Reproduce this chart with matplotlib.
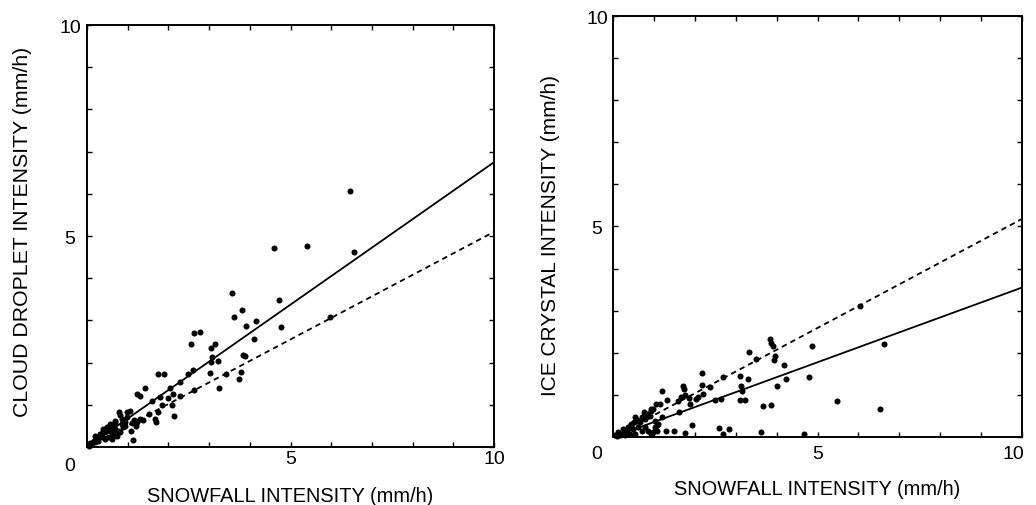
import matplotlib.pyplot as plt
from matplotlib.ticker import MultipleLocator
from matplotlib.transforms import ScaledTranslation

plt.rcParams["font.family"] = ["Liberation Sans", "DejaVu Sans"]

# cloud droplet accretion vs snowfall
DROP_X = [6.47, 6.57, 4.59, 5.41, 4.72, 4.77, 5.96, 3.57, 3.81, 3.61, 3.90, 4.14,
          4.09, 2.55, 2.63, 2.77, 3.04, 3.15, 3.07, 3.04, 3.23, 3.83, 3.89, 3.78,
          3.74, 3.01, 3.42, 3.24, 2.60, 2.47, 2.28, 2.63, 2.28, 2.11, 2.05, 1.74,
          1.88, 1.43, 1.24, 1.29, 1.79, 1.99, 1.84, 2.09, 2.13, 1.60, 1.52, 1.74,
          1.66, 1.69, 1.38, 1.23, 1.15, 1.21, 1.09, 1.13, 1.06, 0.99, 0.79, 0.80,
          0.97, 0.93, 0.88, 0.80, 0.68, 0.64, 0.56, 0.47, 0.39, 0.31, 0.23, 0.15,
          0.07, 0.85, 0.69, 0.61, 0.48, 0.44, 0.32, 0.36, 0.24, 0.16, 0.07, 0.53,
          0.65, 0.77, 0.93, 1.10, 1.18, 1.30, 0.57, 0.40, 0.69, 0.85, 0.20, 0.28,
          0.44, 0.61, 0.73, 0.05, 0.10, 0.12, 0.20, 0.26, 0.35, 0.52]
DROP_Y = [6.06, 4.62, 4.71, 4.77, 3.49, 2.84, 3.08, 3.64, 3.24, 3.08, 2.86, 2.98,
          2.57, 2.43, 2.69, 2.73, 2.35, 2.43, 2.13, 2.01, 2.03, 2.19, 2.16, 1.78,
          1.60, 1.75, 1.72, 1.40, 1.83, 1.74, 1.54, 1.34, 1.22, 1.26, 1.40, 1.72,
          1.72, 1.41, 1.26, 1.22, 1.18, 1.16, 1.00, 0.99, 0.73, 1.09, 0.79, 0.83,
          0.67, 0.59, 0.65, 0.59, 0.63, 0.50, 0.39, 0.16, 0.85, 0.83, 0.83, 0.77,
          0.71, 0.59, 0.47, 0.36, 0.62, 0.47, 0.55, 0.43, 0.36, 0.28, 0.20, 0.12,
          0.04, 0.66, 0.58, 0.50, 0.47, 0.35, 0.31, 0.23, 0.19, 0.15, 0.09, 0.23,
          0.31, 0.39, 0.50, 0.58, 0.62, 0.66, 0.39, 0.43, 0.43, 0.55, 0.27, 0.15,
          0.19, 0.19, 0.27, 0.02, 0.06, 0.10, 0.12, 0.24, 0.30, 0.40]

# ice crystal deposition vs snowfall
ICE_X = [6.63, 6.54, 5.48, 6.05, 4.87, 4.79, 3.83, 3.86, 3.91, 3.97, 3.93, 4.17,
         4.23, 4.00, 3.67, 3.87, 3.33, 3.50, 3.30, 3.10, 3.13, 3.16, 3.10, 3.23,
         2.68, 2.65, 2.49, 2.18, 2.18, 2.36, 2.20, 2.09, 2.02, 1.89, 1.72, 1.73,
         1.77, 1.67, 1.85, 1.59, 1.62, 1.32, 1.20, 1.16, 1.04, 0.99, 0.93, 0.77,
         0.85, 1.08, 0.55, 0.59, 0.51, 1.30, 1.48, 1.77, 1.93, 2.60, 2.84, 2.68,
         3.62, 4.66, 0.99, 0.94, 0.82, 0.70, 0.58, 0.45, 0.37, 0.25, 0.13, 0.05,
         0.50, 0.62, 0.70, 0.78, 0.86, 0.94, 1.03, 1.11, 1.07, 0.33, 0.21, 0.54,
         0.66, 0.78, 0.90, 1.03, 1.19, 0.10, 0.18, 0.30, 0.42]
ICE_Y = [2.20, 0.67, 0.85, 3.11, 2.15, 1.42, 2.33, 2.23, 2.15, 1.92, 1.84, 1.72,
         1.38, 1.22, 0.74, 0.75, 2.02, 1.86, 1.38, 1.44, 1.20, 1.10, 0.87, 0.87,
         1.42, 0.90, 0.87, 1.53, 1.23, 1.19, 1.03, 0.95, 0.91, 0.79, 1.20, 1.13,
         1.00, 0.95, 0.92, 0.85, 0.59, 0.87, 1.10, 0.79, 0.79, 0.67, 0.61, 0.59,
         0.51, 0.29, 0.47, 0.40, 0.36, 0.14, 0.14, 0.10, 0.28, 0.22, 0.18, 0.08,
         0.12, 0.08, 0.12, 0.66, 0.55, 0.47, 0.39, 0.31, 0.23, 0.19, 0.11, 0.05,
         0.19, 0.23, 0.15, 0.23, 0.15, 0.07, 0.23, 0.31, 0.15, 0.11, 0.07, 0.07,
         0.35, 0.43, 0.50, 0.39, 0.47, 0.03, 0.04, 0.05, 0.06]

# regression lines (value at x = 0 and x = 10)
LINE_X = [0, 10]
DROP_SOLID = [0, 6.75]
DROP_DASHED = [0, 5.1]
ICE_SOLID = [0, 3.55]
ICE_DASHED = [0, 5.18]

fig = plt.figure(figsize=(10.36, 5.06), dpi=100)
ax_l = fig.add_axes([0.0840, 0.1146, 0.3929, 0.8340])
ax_r = fig.add_axes([0.5917, 0.1344, 0.3948, 0.8320])

panels = [
    (ax_l, DROP_X, DROP_Y, DROP_SOLID, DROP_DASHED,
     "CLOUD DROPLET INTENSITY (mm/h)", 15.3, 2.5, 12.2,
     (-0.135, 0.512), -0.092, (-0.042, -0.043), 0),
    (ax_r, ICE_X, ICE_Y, ICE_SOLID, ICE_DASHED,
     "ICE CRYSTAL INTENSITY (mm/h)", 15.0, 6.0, 11.5,
     (-0.129, 0.482), -0.0995, (-0.039, -0.040), -6),
]

for (ax, xs, ys, solid, dashed, ylab, ysize, xpad, ypad,
     ylab_pos, xlab_y, zero_pos, ten_shift) in panels:
    ax.scatter(xs, ys, s=19, color="black", linewidths=0, zorder=3, clip_on=False)
    ax.plot(LINE_X, solid, color="black", lw=1.3)
    ax.plot(LINE_X, dashed, color="black", lw=1.3, linestyle=(0, (3.0, 2.3)))
    ax.set_xlim(0, 10)
    ax.set_ylim(0, 10)

    # labelled ticks at 5 and 10, plain ticks every unit, all pointing inward
    ax.set_xticks([0, 5, 10], ["", "5", "10"])
    ax.set_yticks([0, 5, 10], ["", "5", "10"])
    ax.xaxis.set_minor_locator(MultipleLocator(1))
    ax.yaxis.set_minor_locator(MultipleLocator(1))
    ax.tick_params(which="both", direction="in", top=True, right=True,
                   length=3.5, width=1.0, labelsize=14)
    ax.tick_params(axis="x", pad=xpad)
    ax.tick_params(axis="y", pad=ypad)
    for lbl in ax.get_yticklabels():
        lbl.set_horizontalalignment("center")
    if ten_shift:
        last = ax.get_xticklabels()[-1]
        last.set_transform(last.get_transform()
                           + ScaledTranslation(ten_shift / 72, 0, fig.dpi_scale_trans))
    for sp in ax.spines.values():
        sp.set_linewidth(1.4)

    ax.text(zero_pos[0], zero_pos[1], "0", transform=ax.transAxes,
            ha="center", va="center", fontsize=14)

    ax.set_xlabel("SNOWFALL INTENSITY (mm/h)", fontsize=14.4)
    ax.xaxis.set_label_coords(0.5, xlab_y)
    ax.set_ylabel(ylab, fontsize=ysize)
    ax.yaxis.set_label_coords(*ylab_pos)

fig.savefig("out.png", dpi=100, facecolor="white")
